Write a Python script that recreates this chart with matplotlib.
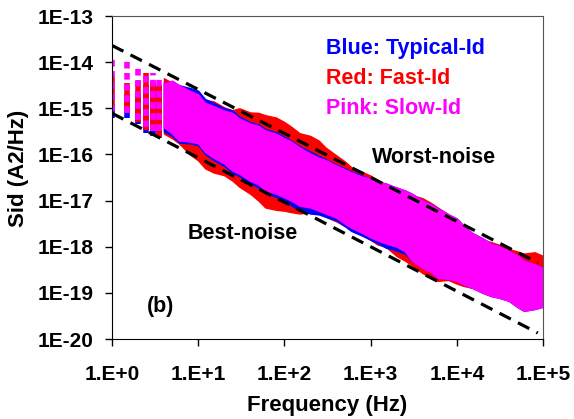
import numpy as np
import matplotlib
matplotlib.use("Agg")
import matplotlib.pyplot as plt

plt.rcParams['font.family'] = ['Liberation Sans', 'DejaVu Sans']
plt.rcParams['font.weight'] = 'bold'

# low-frequency columns (Hz) and log10(Sid) span of each column
col_f = [1, 1.5, 2, 2.5, 3, 3.5]
pink_col_hi = [-13.88, -13.98, -14.13, -14.30, -14.24, -14.30]
pink_col_lo = [-15.05, -15.11, -15.26, -15.40, -15.50, -15.50]
red_col_hi = [-14.30, -14.46, -14.40, -14.24, -14.40, -14.50]
red_col_lo = [-15.00, -15.10, -15.30, -15.48, -15.50, -15.63]
blue_col_hi = [-14.90, -14.70, -14.70, -14.50, -14.46, -14.50]
blue_col_lo = [-15.20, -15.20, -15.35, -15.54, -15.59, -15.65]

# dense part: frequency and log10(Sid) envelope of each data set
freq = [4, 5, 6, 8, 10, 12, 15, 20, 25, 30, 40, 50, 60, 80, 100, 120, 150, 200, 250, 300,
        400, 500, 600, 800, 1000, 1200, 1500, 2000, 2500, 3000, 4000, 5000, 6000, 8000,
        10000, 12000, 15000, 20000, 25000, 30000, 40000, 50000, 60000, 80000, 100000]
pink_hi = [-14.46, -14.40, -14.50, -14.62, -14.70, -14.88, -14.95, -15.05, -15.10, -15.22,
           -15.33, -15.38, -15.48, -15.55, -15.65, -15.72, -15.85, -15.98, -16.07, -16.12,
           -16.24, -16.32, -16.39, -16.48, -16.52, -16.60, -16.63, -16.72, -16.78, -16.85,
           -17.00, -17.08, -17.17, -17.30, -17.39, -17.55, -17.70, -17.82, -17.93, -17.98,
           -18.09, -18.18, -18.30, -18.38, -18.46]
pink_lo = [-15.41, -15.55, -15.70, -15.72, -15.76, -15.95, -16.07, -16.20, -16.35, -16.42,
           -16.57, -16.65, -16.78, -16.85, -16.93, -17.00, -17.11, -17.15, -17.22, -17.28,
           -17.37, -17.50, -17.59, -17.70, -17.80, -17.86, -17.93, -18.00, -18.10, -18.30,
           -18.46, -18.55, -18.67, -18.70, -18.74, -18.82, -18.89, -19.00, -19.07, -19.10,
           -19.17, -19.30, -19.39, -19.35, -19.30]
red_hi = [-14.35, -14.45, -14.50, -14.70, -14.80, -14.82, -14.85, -14.98, -15.04, -15.00,
          -15.09, -15.10, -15.15, -15.20, -15.30, -15.40, -15.54, -15.60, -15.70, -15.85,
          -16.02, -16.15, -16.28, -16.38, -16.46, -16.55, -16.65, -16.72, -16.80, -16.88,
          -16.95, -17.05, -17.15, -17.30, -17.45, -17.60, -17.75, -17.85, -17.90, -17.95,
          -18.05, -18.10, -18.15, -18.12, -18.20]
red_lo = [-15.55, -15.65, -15.76, -16.00, -16.13, -16.30, -16.39, -16.45, -16.57, -16.70,
          -16.85, -17.00, -17.15, -17.20, -17.22, -17.25, -17.28, -17.25, -17.25, -17.35,
          -17.45, -17.55, -17.65, -17.75, -17.85, -17.95, -18.00, -18.20, -18.30, -18.40,
          -18.57, -18.68, -18.74, -18.72, -18.80, -18.85, -18.89, -18.90, -18.96, -19.00,
          -19.07, -19.15, -19.20, -19.30, -19.25]
blue_hi = [-14.45, -14.42, -14.50, -14.56, -14.62, -14.80, -14.88, -15.00, -15.05, -15.18,
           -15.30, -15.35, -15.45, -15.52, -15.62, -15.70, -15.82, -15.94, -16.03, -16.10,
           -16.22, -16.30, -16.37, -16.46, -16.52, -16.60, -16.63, -16.72, -16.78, -16.85,
           -17.00, -17.08, -17.17, -17.30, -17.39, -17.55, -17.70, -17.82, -17.93, -17.98,
           -18.09, -18.18, -18.30, -18.38, -18.46]
blue_lo = [-15.50, -15.60, -15.74, -15.76, -15.80, -15.99, -16.12, -16.25, -16.40, -16.47,
           -16.62, -16.72, -16.84, -16.92, -17.00, -17.10, -17.22, -17.28, -17.30, -17.35,
           -17.43, -17.55, -17.66, -17.76, -17.85, -17.92, -18.02, -18.08, -18.15, -18.30,
           -18.46, -18.55, -18.67, -18.70, -18.74, -18.82, -18.89, -19.00, -19.07, -19.10,
           -19.17, -19.30, -19.39, -19.35, -19.30]

# bounding lines
bound_f = [1, 8.7e4]
worst = [2.3e-14, 4.5e-19]
best = [7.8e-16, 1.35e-20]

BLUE, RED, PINK = '#0000FF', '#FF0000', '#FF00FF'

fig = plt.figure(figsize=(5.74, 4.19), dpi=100)
ax = fig.add_axes([112/574, 1-339/419, 431/574, 323/419])
ax.set_xscale('log')
ax.set_yscale('log')

p = lambda v: 10.0 ** np.array(v)

# columns at the lowest frequencies
ax.vlines(col_f, p(blue_col_lo), p(blue_col_hi), colors=BLUE, linewidth=4)
ax.vlines(col_f, p(red_col_lo), p(red_col_hi), colors=RED, linewidth=4)
ax.vlines(col_f, p(pink_col_lo), p(pink_col_hi), colors=PINK, linewidth=4,
          linestyles=[(0, (1.2, 0.8))])

for hi, lo, c in [(red_hi, red_lo, RED), (blue_hi, blue_lo, BLUE), (pink_hi, pink_lo, PINK)]:
    ax.fill_between(freq, p(lo), p(hi), color=c, linewidth=1.0, edgecolor=c)

ax.plot(bound_f, worst, color='black', lw=2.3, ls=(0, (4, 2.5)))
ax.plot(bound_f, best, color='black', lw=2.3, ls=(0, (4, 2.5)))

ax.set_xlim(1, 1e5)
ax.set_ylim(1e-20, 1e-13)
ax.set_xticks([1, 10, 100, 1e3, 1e4, 1e5])
ax.set_xticklabels(['1.E+0', '1.E+1', '1.E+2', '1.E+3', '1.E+4', '1.E+5'])
ax.set_yticks([10.0 ** k for k in range(-20, -12)])
ax.set_yticklabels(['1E%d' % k for k in range(-20, -12)])
ax.minorticks_off()
ax.tick_params(axis='both', direction='out', length=5, width=1, labelsize=15)
ax.tick_params(axis='x', pad=14)
ax.tick_params(axis='y', pad=8)
ax.spines['top'].set_color('#555555')
ax.spines['right'].set_color('#555555')

ax.set_xlabel('Frequency (Hz)', fontsize=16, fontweight='bold')
ax.set_ylabel('Sid (A2/Hz)', fontsize=16, fontweight='bold')
ax.xaxis.set_label_coords(0.5, -0.172)
ax.yaxis.set_label_coords(-0.192, 0.529)

ax.text(0.4965, 0.9006, 'Blue: Typical-Id', color=BLUE, fontsize=15.5, fontweight='bold',
        transform=ax.transAxes, va='center')
ax.text(0.4965, 0.8075, 'Red: Fast-Id', color=RED, fontsize=15.5, fontweight='bold',
        transform=ax.transAxes, va='center')
ax.text(0.4965, 0.7143, 'Pink: Slow-Id', color=PINK, fontsize=15.5, fontweight='bold',
        transform=ax.transAxes, va='center')
ax.text(0.603, 0.562, 'Worst-noise', fontsize=15.5, fontweight='bold', transform=ax.transAxes, va='center')
ax.text(0.176, 0.326, 'Best-noise', fontsize=15.5, fontweight='bold', transform=ax.transAxes, va='center')
ax.text(0.081, 0.102, '(b)', fontsize=15.5, fontweight='bold', transform=ax.transAxes, va='center')

fig.savefig('out.png', dpi=100)
